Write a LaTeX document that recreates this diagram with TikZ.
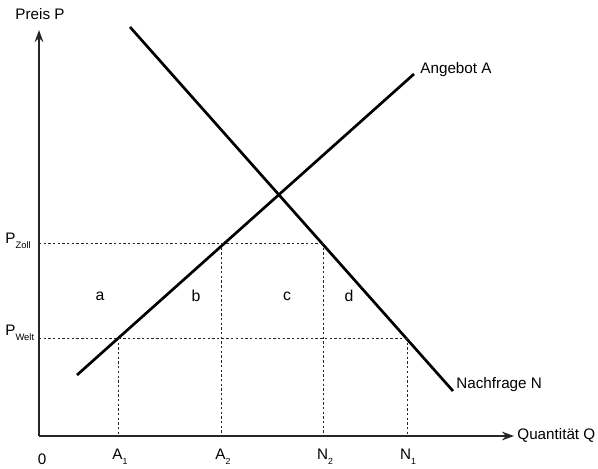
\documentclass[tikz,border=0pt]{standalone}
\usepackage{fontspec}
\setmainfont{Liberation Sans}
\usepackage{tikz}
\usetikzlibrary{arrows.meta,positioning}
\tikzset{
  >={Stealth[length=3.6mm,width=2.6mm]},
  taxis/.style={black!85, line width=1.5pt, ->},
  tcurve/.style={black, line width=2.3pt},
  tguide/.style={black!85, line width=0.7pt, dash pattern=on 2pt off 2pt},
  tlbl/.style={font=\fontsize{13}{15}\selectfont, inner sep=1pt},
  tarea/.style={font=\fontsize{13.5}{15}\selectfont, inner sep=1pt},
}
\newcommand{\psub}[1]{P\raisebox{-0.6ex}{\fontsize{8}{9}\selectfont #1}}
\newcommand{\qsub}[2]{#1\raisebox{-0.6ex}{\fontsize{7.5}{8}\selectfont #2}}

\begin{document}
\begin{tikzpicture}[x=0.03cm,y=-0.03cm]
  \useasboundingbox (0,0) rectangle (598,468);

  % axes
  \coordinate (O) at (39,436);
  \coordinate (ytip) at (39,30);
  \coordinate (xtip) at (514,436);
  \draw[taxis] (O) -- (ytip);
  \draw[taxis] (O) -- (xtip);
  \node[tlbl] (preis) at (40,14) {Preis P};
  \node[tlbl, anchor=west] (quant) at (516,435) {Quantität Q};
  \node[tlbl] (null) at (42,459) {0};

  % curves
  \coordinate (aStart) at (77,375);
  \coordinate (aEnd) at (414,74);
  \coordinate (nStart) at (130,27);
  \coordinate (nEnd) at (453,391);
  \draw[tcurve] (aStart) -- (aEnd);
  \draw[tcurve] (nStart) -- (nEnd);
  \node[tlbl, anchor=west] (angebot) at (419,70) {Angebot A};
  \node[tlbl, anchor=west] (nachfrage) at (455,385) {Nachfrage N};

  % price levels
  \coordinate (zollL) at (39,243);
  \coordinate (weltL) at (39,338);
  \coordinate (a1) at (118,338);
  \coordinate (a2) at (221,243);
  \coordinate (n2) at (323,243);
  \coordinate (n1) at (407,338);
  \draw[tguide] (zollL) -- (n2);
  \draw[tguide] (weltL) -- (n1);
  \foreach \p in {a1,a2,n2,n1}
    \draw[tguide] (\p) -- (\p |- O);
  \node[tlbl, anchor=west] (pzoll) at (4,241) {\psub{Zoll}};
  \node[tlbl, anchor=west] (pwelt) at (4,333) {\psub{Welt}};

  \node[tlbl] (qa1) at (120,457) {\qsub{A}{1}};
  \node[tlbl] (qa2) at (223,457) {\qsub{A}{2}};
  \node[tlbl] (qn2) at (325,457) {\qsub{N}{2}};
  \node[tlbl] (qn1) at (408,457) {\qsub{N}{1}};

  % areas
  \node[tarea] (fa) at (100,296) {a};
  \node[tarea] (fb) at (196,296) {b};
  \node[tarea] (fc) at (287,296) {c};
  \node[tarea] (fd) at (349,296) {d};

\end{tikzpicture}
\end{document}
